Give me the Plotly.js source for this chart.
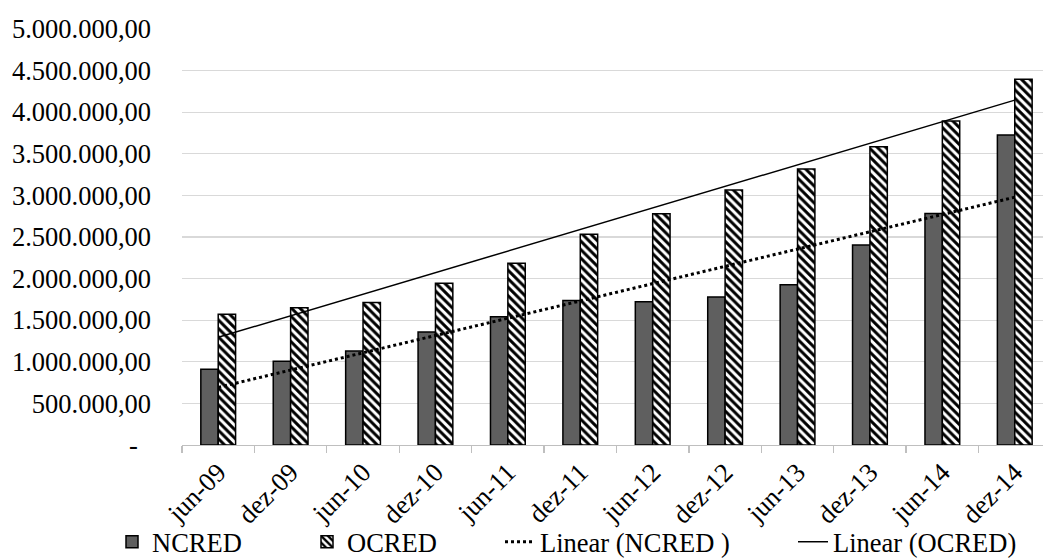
<!DOCTYPE html>
<html>
<head>
<meta charset="utf-8">
<script src="https://cdn.plot.ly/plotly-3.0.1.min.js"></script>
<style>
html, body { margin: 0; padding: 0; background: #fff; overflow: hidden; }
#chart { width: 1043px; height: 558px; }
</style>
</head>
<body>
<div id="chart"></div>
<script>
// Categories (semesters)
const categories = ["jun-09", "dez-09", "jun-10", "dez-10", "jun-11", "dez-11",
                    "jun-12", "dez-12", "jun-13", "dez-13", "jun-14", "dez-14"];

// Series values
const ncred = [911000, 1006000, 1131000, 1357000, 1541000, 1738000,
               1722000, 1778000, 1927000, 2405000, 2782000, 3727000];
const ocred = [1573000, 1650000, 1714000, 1943000, 2184000, 2533000,
               2778000, 3064000, 3317000, 3585000, 3895000, 4397000];

// Y tick labels
const yTickVals = [0, 500000, 1000000, 1500000, 2000000, 2500000,
                   3000000, 3500000, 4000000, 4500000, 5000000];
const yTickText = ["-\u00a0\u00a0", "500.000,00", "1.000.000,00", "1.500.000,00", "2.000.000,00",
                   "2.500.000,00", "3.000.000,00", "3.500.000,00", "4.000.000,00",
                   "4.500.000,00", "5.000.000,00"];

// Least-squares linear trend (as Excel's "Linear" trendline)
function linearTrend(vals) {
  const n = vals.length;
  const xs = vals.map((_, i) => i + 1);
  const mx = xs.reduce((a, b) => a + b, 0) / n;
  const my = vals.reduce((a, b) => a + b, 0) / n;
  let sxy = 0, sxx = 0;
  for (let i = 0; i < n; i++) { sxy += (xs[i] - mx) * (vals[i] - my); sxx += (xs[i] - mx) ** 2; }
  const b = sxy / sxx, a = my - b * mx;
  return xs.map(x => a + b * x);
}

const FONT = "Liberation Serif, Times New Roman, serif";
const FS = 26.5;

const traces = [
  {
    type: "bar", name: "NCRED", x: categories, y: ncred,
    marker: { color: "#5f5f5f", line: { color: "#000", width: 1.5 } },
    legend: "legend"
  },
  {
    type: "bar", name: "OCRED", x: categories, y: ocred,
    marker: {
      color: "#ffffff",
      line: { color: "#000", width: 1.5 },
      pattern: { shape: "\\", fgcolor: "#000", bgcolor: "#fff", size: 6, solidity: 0.5 }
    },
    legend: "legend2"
  },
  {
    type: "scatter", mode: "lines", name: "Linear (NCRED )", x: categories, y: linearTrend(ncred),
    line: { color: "#000", width: 3, dash: "dot" },
    legend: "legend3"
  },
  {
    type: "scatter", mode: "lines", name: "Linear (OCRED)", x: categories, y: linearTrend(ocred),
    line: { color: "#000", width: 1.5 },
    legend: "legend4"
  }
];

function leg(px) {
  return {
    xref: "container", yref: "container",
    x: px / 1043, y: 1 - 542 / 558, xanchor: "left", yanchor: "middle",
    orientation: "h", bgcolor: "rgba(0,0,0,0)", borderwidth: 0,
    font: { family: FONT, size: FS, color: "#000" }
  };
}

const layout = {
  width: 1043, height: 558,
  margin: { l: 182, r: 0, t: 29, b: 113, pad: 0 },
  paper_bgcolor: "#fff", plot_bgcolor: "#fff",
  font: { family: FONT, size: FS, color: "#000" },
  barmode: "group", bargap: 0.52, bargroupgap: 0,
  showlegend: true,
  legend: leg(112), legend2: leg(307), legend3: leg(500), legend4: leg(793),
  xaxis: {
    type: "category", range: [-0.5, 11.39],
    tickangle: -45, tickson: "boundaries", ticks: "outside", ticklen: 7,
    tickcolor: "#bfbfbf", tickwidth: 1.3,
    showline: true, linecolor: "#bfbfbf", linewidth: 1.3,
    showgrid: false, zeroline: false,
    tickfont: { family: FONT, size: FS, color: "#000" }
  },
  yaxis: {
    range: [0, 5000000], tickvals: yTickVals, ticktext: yTickText,
    showgrid: true, gridcolor: "#d9d9d9", gridwidth: 1.3,
    zeroline: false, showline: false, ticks: "", ticklabelstandoff: 30,
    tickfont: { family: FONT, size: FS, color: "#000" }
  }
};

Plotly.newPlot("chart", traces, layout, { displayModeBar: false, staticPlot: true });
</script>
</body>
</html>
